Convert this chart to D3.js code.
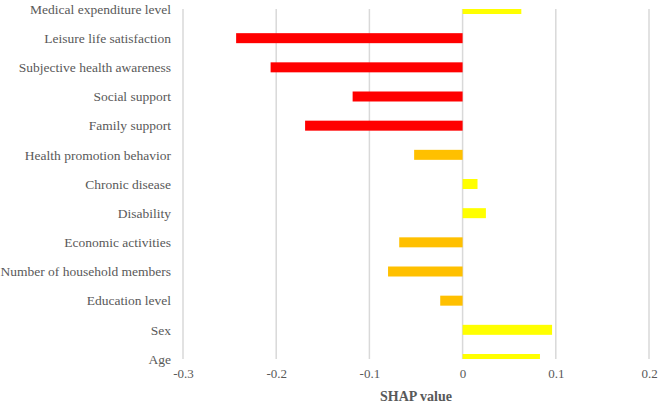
<!DOCTYPE html>
<html><head><meta charset="utf-8">
<script src="https://cdn.jsdelivr.net/npm/d3@7"></script>
<style>body{margin:0;background:#fff}svg{display:block}</style>
</head><body><svg id="c" width="660" height="404"></svg>
<script>
const categories = ["Medical expenditure level","Leisure life satisfaction","Subjective health awareness","Social support","Family support","Health promotion behavior","Chronic disease","Disability","Economic activities","Number of household members","Education level","Sex","Age"];
const shapValues = [0.063,-0.243,-0.206,-0.118,-0.169,-0.052,0.016,0.025,-0.068,-0.080,-0.024,0.096,0.083];
const colorGroup = ["yellow","red","red","red","red","orange","yellow","yellow","orange","orange","orange","yellow","yellow"];
const xTicks = [-0.3,-0.2,-0.1,0,0.1,0.2];
const xTickLabels = ["-0.3","-0.2","-0.1","0","0.1","0.2"];
const palette = {red:"#FF0000", orange:"#FFC000", yellow:"#FFFF00"};

const svg = d3.select("#c");
const m = {left:183, right:11, top:9, bottom:45};
const W = 660, H = 404;
const x = d3.scaleLinear().domain([-0.3,0.2]).range([m.left, W-m.right]);
const y = d3.scalePoint().domain(categories).range([m.top, H-m.bottom]);
const font = "'Liberation Serif','Times New Roman',serif";

svg.append("defs").append("clipPath").attr("id","plot")
  .append("rect").attr("x",m.left).attr("y",m.top).attr("width",x(0.2)-m.left).attr("height",H-m.bottom-m.top);

svg.append("g").selectAll("line").data(xTicks).join("line")
  .attr("x1",d=>x(d)).attr("x2",d=>x(d)).attr("y1",m.top).attr("y2",H-m.bottom)
  .attr("stroke","#d9d9d9").attr("stroke-width",1.5);

const bh = 10;
svg.append("g").attr("clip-path","url(#plot)").selectAll("rect").data(categories).join("rect")
  .attr("x",(d,i)=>Math.min(x(0),x(shapValues[i])))
  .attr("width",(d,i)=>Math.abs(x(shapValues[i])-x(0)))
  .attr("y",d=>y(d)-bh/2).attr("height",bh)
  .attr("fill",(d,i)=>palette[colorGroup[i]]);

svg.append("g").selectAll("text").data(categories).join("text")
  .attr("x",171).attr("y",d=>y(d)).attr("dy","0.35em").attr("text-anchor","end")
  .attr("font-family",font).attr("font-size",13.5).attr("fill","#595959").text(d=>d);

const xAxis = d3.axisBottom(x).tickValues(xTicks).tickSize(0).tickPadding(10).tickFormat((d,i)=>xTickLabels[i]);
const ga = svg.append("g").attr("transform",`translate(0,${H-m.bottom})`).call(xAxis);
ga.select(".domain").remove();
ga.selectAll("text").attr("font-family",font).attr("font-size",13).attr("fill","#595959");

svg.append("text").attr("x",(x(-0.3)+x(0.2))/2).attr("y",401).attr("text-anchor","middle")
  .attr("font-family",font).attr("font-size",14).attr("font-weight","bold").attr("fill","#595959").text("SHAP value");
</script></body></html>
